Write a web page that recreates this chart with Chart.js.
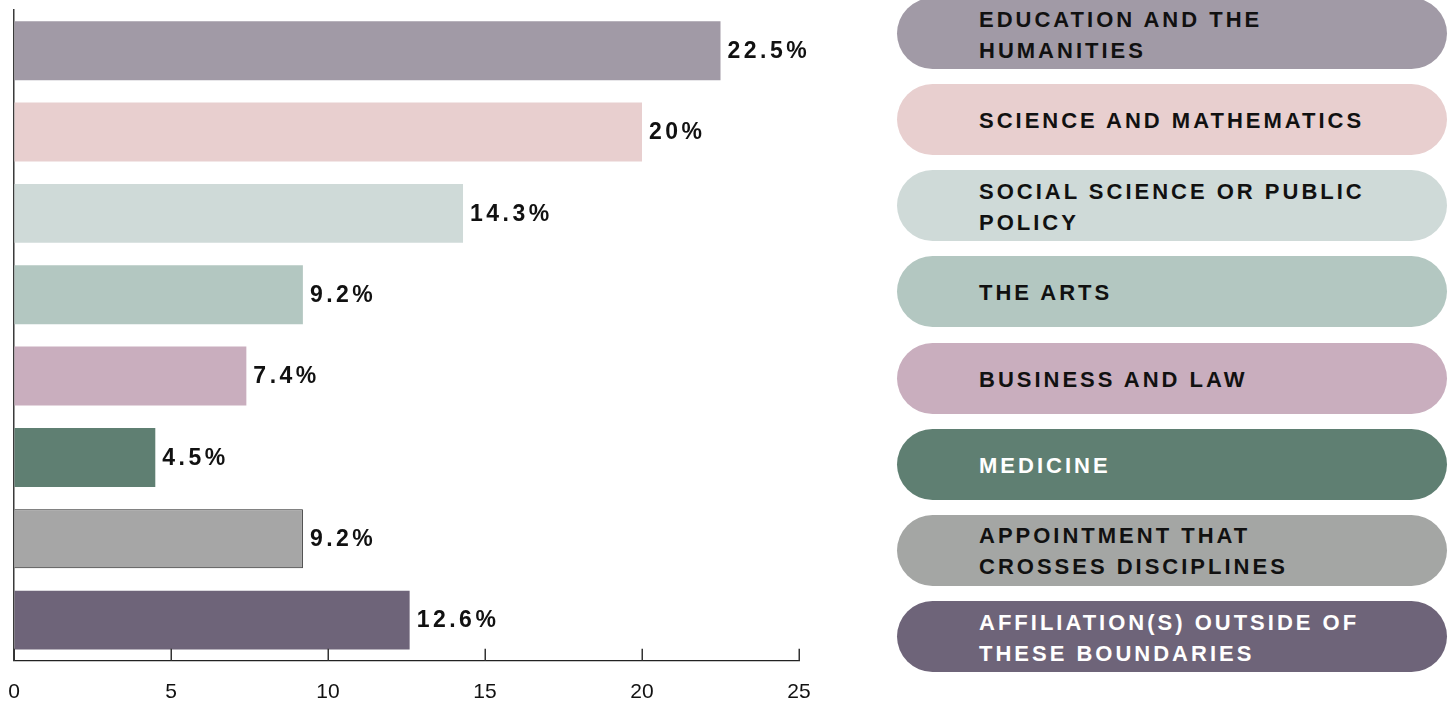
<!DOCTYPE html>
<html>
<head>
<meta charset="utf-8">
<script src="https://cdn.jsdelivr.net/npm/chart.js@4.4.1/dist/chart.umd.min.js"></script>
<style>
  html, body { margin: 0; padding: 0; background: #ffffff; }
  body { width: 1452px; height: 705px; position: relative; overflow: hidden; }
  #chartWrap { position: absolute; left: 0; top: 0; width: 860px; height: 705px; }
  #legend { position: absolute; left: 897px; top: 0; width: 550px; height: 705px; }
  .pill {
    position: absolute; left: 0; width: 550px; height: 71px; border-radius: 36px;
    display: flex; align-items: center; box-sizing: border-box; padding-left: 82px; padding-right: 30px;
    font-family: "Liberation Sans", Arial, sans-serif; font-weight: 700; font-size: 22px;
    letter-spacing: 3px; line-height: 31px; text-transform: uppercase;
  }
  .pill span { position: relative; top: 1px; }
</style>
</head>
<body>
<div id="chartWrap"><canvas id="c"></canvas></div>
<div id="legend"></div>
<script>
const categories = [
  "Education and the Humanities",
  "Science and Mathematics",
  "Social Science or Public Policy",
  "The Arts",
  "Business and Law",
  "Medicine",
  "Appointment that Crosses Disciplines",
  "Affiliation(s) Outside of These Boundaries"
];
const legendLines = [
  ["Education and the", "Humanities"],
  ["Science and Mathematics"],
  ["Social Science or Public", "Policy"],
  ["The Arts"],
  ["Business and Law"],
  ["Medicine"],
  ["Appointment that", "Crosses Disciplines"],
  ["Affiliation(s) Outside of", "These Boundaries"]
];
const values = [22.5, 20, 14.3, 9.2, 7.4, 4.5, 9.2, 12.6];
const barColors = ["#a19aa6", "#e8cfcf", "#cfdad8", "#b3c7c1", "#c9aebe", "#5f7f72", "#a6a6a6", "#6e6479"];
const pillColors = ["#a19aa6", "#e8cfcf", "#cfdad8", "#b3c7c1", "#c9aebe", "#5f7f72", "#a4a6a4", "#6e6479"];
const pillText = ["#111111", "#111111", "#111111", "#111111", "#111111", "#ffffff", "#111111", "#ffffff"];
const xTicks = [0, 5, 10, 15, 20, 25];

// Legend (HTML, real text)
const legend = document.getElementById('legend');
legendLines.forEach((lines, i) => {
  const d = document.createElement('div');
  d.className = 'pill';
  d.style.top = (-2 + i * 86.15) + 'px';
  d.style.background = pillColors[i];
  d.style.color = pillText[i];
  const span = document.createElement('span');
  span.innerHTML = lines.join('<br>');
  d.appendChild(span);
  legend.appendChild(d);
});

const valueLabels = {
  id: 'valueLabels',
  afterDatasetsDraw(chart) {
    const ctx = chart.ctx;
    const meta = chart.getDatasetMeta(0);
    ctx.save();
    ctx.font = 'bold 23px "Liberation Sans", Arial, sans-serif';
    ctx.letterSpacing = '3.5px';
    ctx.fillStyle = '#111111';
    ctx.textBaseline = 'middle';
    ctx.textAlign = 'left';
    meta.data.forEach((el, i) => {
      ctx.fillText(values[i] + '%', el.x + 7, el.y + 1);
    });
    ctx.restore();
  }
};

const tickMarks = {
  id: 'tickMarks',
  afterDraw(chart) {
    const ctx = chart.ctx;
    const xs = chart.scales.x;
    const bottom = chart.chartArea.bottom;
    ctx.save();
    ctx.strokeStyle = '#333333';
    ctx.lineWidth = 1.5;
    xs.ticks.forEach(t => {
      const px = Math.round(xs.getPixelForValue(t.value)) + 0.25;
      ctx.beginPath();
      ctx.moveTo(px, bottom);
      ctx.lineTo(px, bottom - 12);
      ctx.stroke();
    });
    ctx.restore();
  }
};

new Chart(document.getElementById('c'), {
  type: 'bar',
  data: {
    labels: categories,
    datasets: [{
      data: values,
      backgroundColor: barColors,
      borderColor: barColors.map((c, i) => i === 6 ? '#222222' : c),
      borderWidth: barColors.map((c, i) => i === 6 ? 1 : 0),
      borderSkipped: 'start',
      categoryPercentage: 1,
      barPercentage: 0.725
    }]
  },
  options: {
    indexAxis: 'y',
    responsive: true,
    maintainAspectRatio: false,
    animation: false,
    layout: { padding: { left: 14, right: 61, top: 10, bottom: 0 } },
    plugins: { legend: { display: false }, tooltip: { enabled: false } },
    scales: {
      x: {
        type: 'linear',
        min: 0, max: 25,
        afterBuildTicks(scale) { scale.ticks = xTicks.map(v => ({ value: v })); },
        ticks: {
          padding: 0,
          color: '#111111',
          font: { family: '"Liberation Sans", Arial, sans-serif', size: 21 },
          maxRotation: 0
        },
        grid: { display: true, drawOnChartArea: false, drawTicks: true, tickLength: 19, tickColor: 'rgba(0,0,0,0)', color: 'rgba(0,0,0,0)' },
        border: { display: true, color: '#222222', width: 1.2 }
      },
      y: {
        ticks: { display: false },
        grid: { display: false, drawTicks: false },
        border: { display: true, color: '#3a3a3a', width: 1.5 }
      }
    }
  },
  plugins: [valueLabels, tickMarks]
});
</script>
</body>
</html>
